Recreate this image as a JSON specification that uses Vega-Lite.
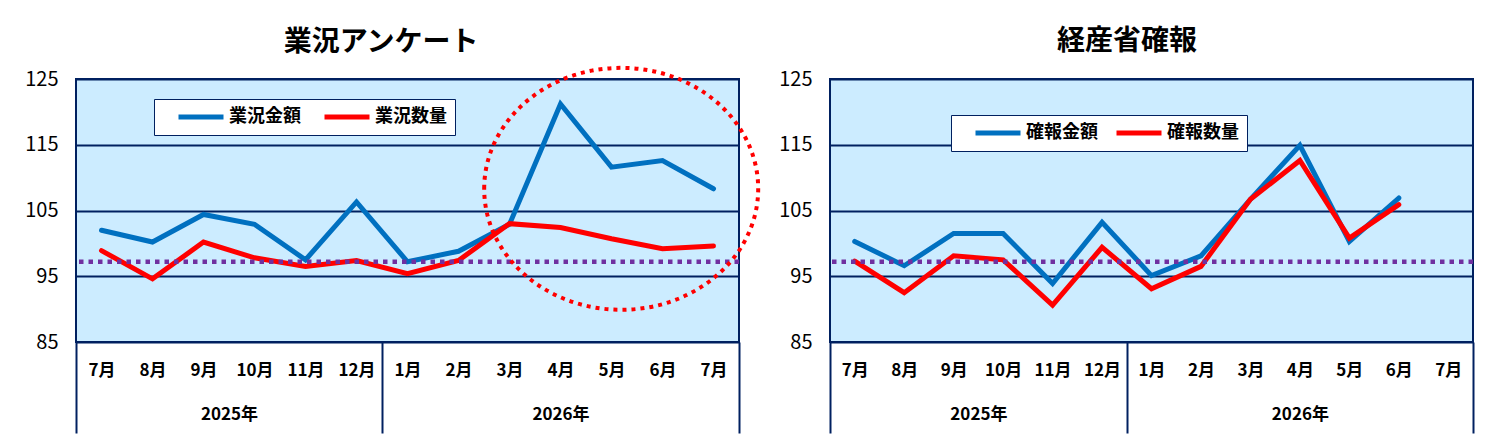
{
  "$schema": "https://vega.github.io/schema/vega-lite/v6.json",
  "background": "white",
  "padding": {"left": 5, "top": 27, "right": 5, "bottom": 2},
  "config": {
    "font": "Noto Sans CJK JP",
    "view": {"stroke": "#002060", "strokeWidth": 2, "fill": "#CCECFF"},
    "concat": {"spacing": 9},
    "axis": {"labelColor": "black", "labelFont": "Noto Sans CJK JP"},
    "axisY": {"labelFontSize": 20, "labelPadding": 18, "grid": true, "gridColor": "#002060", "gridWidth": 2, "domain": false, "ticks": false, "labelColor": "black", "labelFontWeight": "normal"},
    "title": {"color": "black", "font": "Noto Sans CJK JP"}
  },
  "datasets": {
    "survey": [
      {"i": 0, "month": "2025年7月", "series": "業況金額", "value": 102.0},
      {"i": 1, "month": "2025年8月", "series": "業況金額", "value": 100.2},
      {"i": 2, "month": "2025年9月", "series": "業況金額", "value": 104.4},
      {"i": 3, "month": "2025年10月", "series": "業況金額", "value": 102.9},
      {"i": 4, "month": "2025年11月", "series": "業況金額", "value": 97.5},
      {"i": 5, "month": "2025年12月", "series": "業況金額", "value": 106.3},
      {"i": 6, "month": "2026年1月", "series": "業況金額", "value": 97.2},
      {"i": 7, "month": "2026年2月", "series": "業況金額", "value": 98.8},
      {"i": 8, "month": "2026年3月", "series": "業況金額", "value": 102.9},
      {"i": 9, "month": "2026年4月", "series": "業況金額", "value": 121.2},
      {"i": 10, "month": "2026年5月", "series": "業況金額", "value": 111.6},
      {"i": 11, "month": "2026年6月", "series": "業況金額", "value": 112.6},
      {"i": 12, "month": "2026年7月", "series": "業況金額", "value": 108.3},
      {"i": 0, "month": "2025年7月", "series": "業況数量", "value": 98.9},
      {"i": 1, "month": "2025年8月", "series": "業況数量", "value": 94.6},
      {"i": 2, "month": "2025年9月", "series": "業況数量", "value": 100.2},
      {"i": 3, "month": "2025年10月", "series": "業況数量", "value": 97.8},
      {"i": 4, "month": "2025年11月", "series": "業況数量", "value": 96.5},
      {"i": 5, "month": "2025年12月", "series": "業況数量", "value": 97.4},
      {"i": 6, "month": "2026年1月", "series": "業況数量", "value": 95.4},
      {"i": 7, "month": "2026年2月", "series": "業況数量", "value": 97.4},
      {"i": 8, "month": "2026年3月", "series": "業況数量", "value": 103.0},
      {"i": 9, "month": "2026年4月", "series": "業況数量", "value": 102.4},
      {"i": 10, "month": "2026年5月", "series": "業況数量", "value": 100.7},
      {"i": 11, "month": "2026年6月", "series": "業況数量", "value": 99.2},
      {"i": 12, "month": "2026年7月", "series": "業況数量", "value": 99.6}
    ],
    "meti": [
      {"i": 0, "month": "2025年7月", "series": "確報金額", "value": 100.3},
      {"i": 1, "month": "2025年8月", "series": "確報金額", "value": 96.6},
      {"i": 2, "month": "2025年9月", "series": "確報金額", "value": 101.5},
      {"i": 3, "month": "2025年10月", "series": "確報金額", "value": 101.5},
      {"i": 4, "month": "2025年11月", "series": "確報金額", "value": 93.9},
      {"i": 5, "month": "2025年12月", "series": "確報金額", "value": 103.2},
      {"i": 6, "month": "2026年1月", "series": "確報金額", "value": 95.1},
      {"i": 7, "month": "2026年2月", "series": "確報金額", "value": 98.1},
      {"i": 8, "month": "2026年3月", "series": "確報金額", "value": 106.7},
      {"i": 9, "month": "2026年4月", "series": "確報金額", "value": 114.9},
      {"i": 10, "month": "2026年5月", "series": "確報金額", "value": 100.3},
      {"i": 11, "month": "2026年6月", "series": "確報金額", "value": 106.9},
      {"i": 0, "month": "2025年7月", "series": "確報数量", "value": 97.3},
      {"i": 1, "month": "2025年8月", "series": "確報数量", "value": 92.5},
      {"i": 2, "month": "2025年9月", "series": "確報数量", "value": 98.1},
      {"i": 3, "month": "2025年10月", "series": "確報数量", "value": 97.5},
      {"i": 4, "month": "2025年11月", "series": "確報数量", "value": 90.6},
      {"i": 5, "month": "2025年12月", "series": "確報数量", "value": 99.4},
      {"i": 6, "month": "2026年1月", "series": "確報数量", "value": 93.1},
      {"i": 7, "month": "2026年2月", "series": "確報数量", "value": 96.5},
      {"i": 8, "month": "2026年3月", "series": "確報数量", "value": 106.7},
      {"i": 9, "month": "2026年4月", "series": "確報数量", "value": 112.6},
      {"i": 10, "month": "2026年5月", "series": "確報数量", "value": 100.8},
      {"i": 11, "month": "2026年6月", "series": "確報数量", "value": 105.9}
    ],
    "baseline": [{"level": 97.2}],
    "highlight": [{"i": 10.19, "value": 108.3}]
  },
  "hconcat": [
    {
      "width": 663,
      "height": 263,
      "title": {"text": "業況アンケート", "fontSize": 28, "fontWeight": "bold", "anchor": "middle", "frame": "bounds", "offset": 3, "dx": -5},
      "layer": [
        {
          "data": {"name": "survey"},
          "mark": {"type": "line", "strokeWidth": 5, "strokeCap": "round"},
          "encoding": {
            "x": {"field": "i", "type": "quantitative", "scale": {"domain": [-0.5, 12.5], "nice": false, "zero": false},
              "axis": {"orient": "bottom", "values": [0,1,2,3,4,5,6,7,8,9,10,11,12], "labelExpr": "['7月','8月','9月','10月','11月','12月','1月','2月','3月','4月','5月','6月','7月'][datum.value]", "domain": false, "ticks": false, "grid": false, "title": null, "labelFontSize": 17, "labelFontWeight": "bold", "labelPadding": 20, "labelOverlap": false, "labelFlush": false}},
            "y": {"field": "value", "type": "quantitative", "scale": {"domain": [85, 125], "nice": false, "zero": false},
              "axis": {"values": [85, 95, 105, 115, 125], "title": null, "minExtent": 70, "labelOverlap": false, "labelFontSize": 20}},
            "color": {"field": "series", "type": "nominal", "scale": {"domain": ["業況金額", "業況数量"], "range": ["#0070C0", "#FF0000"]},
              "legend": {"orient": "none", "legendX": 78, "legendY": 20, "direction": "horizontal", "title": null, "symbolType": "M-3,0H3", "symbolStrokeWidth": 5, "symbolSize": 225, "symbolOffset": 29, "labelFontSize": 18, "labelFontWeight": "bold", "labelColor": "black", "labelOffset": 18, "columnPadding": 7, "padding": 8, "strokeColor": "#002060", "fillColor": "white"}}
          }
        },
        {
          "data": {"name": "survey"},
          "mark": {"type": "tick", "opacity": 0},
          "encoding": {
            "x": {"field": "i", "type": "quantitative",
              "axis": {"orient": "bottom", "values": [-0.5, 5.5, 12.5], "labels": false, "domain": false, "grid": false, "title": null, "ticks": true, "tickSize": 91, "tickWidth": 2, "tickColor": "#002060"}},
            "y": {"field": "value", "type": "quantitative"}
          }
        },
        {
          "data": {"name": "survey"},
          "mark": {"type": "tick", "opacity": 0},
          "encoding": {
            "x": {"field": "i", "type": "quantitative",
              "axis": {"orient": "bottom", "values": [2.5, 9], "labelExpr": "datum.value < 5.5 ? '2025年' : '2026年'", "domain": false, "ticks": false, "grid": false, "title": null, "labelFontSize": 17, "labelFontWeight": "bold", "labelPadding": 64, "labelOverlap": false, "labelFlush": false}},
            "y": {"field": "value", "type": "quantitative"}
          }
        },
        {
          "data": {"name": "baseline"},
          "mark": {"type": "rule", "color": "#7030A0", "strokeWidth": 4.5, "strokeDash": [4.5, 5]},
          "encoding": {"y": {"field": "level", "type": "quantitative"}}
        },
        {
          "data": {"name": "highlight"},
          "mark": {"type": "point", "shape": "M-1,0C-1,-0.4877,-0.5523,-0.883,0,-0.883C0.5523,-0.883,1,-0.4877,1,0C1,0.4877,0.5523,0.883,0,0.883C-0.5523,0.883,-1,0.4877,-1,0Z", "size": 75076, "filled": false, "stroke": "#FF0000", "strokeWidth": 4, "strokeDash": [4, 5], "opacity": 1},
          "encoding": {
            "x": {"field": "i", "type": "quantitative", "axis": null},
            "y": {"field": "value", "type": "quantitative"}
          }
        }
      ],
      "resolve": {"axis": {"x": "independent"}}
    },
    {
      "width": 643,
      "height": 263,
      "title": {"text": "経産省確報", "fontSize": 28, "fontWeight": "bold", "anchor": "middle", "frame": "bounds", "offset": 13},
      "layer": [
        {
          "data": {"name": "meti"},
          "mark": {"type": "line", "strokeWidth": 5, "strokeCap": "round"},
          "encoding": {
            "x": {"field": "i", "type": "quantitative", "scale": {"domain": [-0.5, 12.5], "nice": false, "zero": false},
              "axis": {"orient": "bottom", "values": [0,1,2,3,4,5,6,7,8,9,10,11,12], "labelExpr": "['7月','8月','9月','10月','11月','12月','1月','2月','3月','4月','5月','6月','7月'][datum.value]", "domain": false, "ticks": false, "grid": false, "title": null, "labelFontSize": 17, "labelFontWeight": "bold", "labelPadding": 20, "labelOverlap": false, "labelFlush": false}},
            "y": {"field": "value", "type": "quantitative", "scale": {"domain": [85, 125], "nice": false, "zero": false},
              "axis": {"values": [85, 95, 105, 115, 125], "title": null, "minExtent": 50, "labelOverlap": false, "labelFontSize": 20}},
            "color": {"field": "series", "type": "nominal", "scale": {"domain": ["確報金額", "確報数量"], "range": ["#0070C0", "#FF0000"]},
              "legend": {"orient": "none", "legendX": 121, "legendY": 36, "direction": "horizontal", "title": null, "symbolType": "M-3,0H3", "symbolStrokeWidth": 5, "symbolSize": 225, "symbolOffset": 29, "labelFontSize": 18, "labelFontWeight": "bold", "labelColor": "black", "labelOffset": 18, "columnPadding": 2, "padding": 8, "strokeColor": "#002060", "fillColor": "white"}}
          }
        },
        {
          "data": {"name": "meti"},
          "mark": {"type": "tick", "opacity": 0},
          "encoding": {
            "x": {"field": "i", "type": "quantitative",
              "axis": {"orient": "bottom", "values": [-0.5, 5.5, 12.5], "labels": false, "domain": false, "grid": false, "title": null, "ticks": true, "tickSize": 91, "tickWidth": 2, "tickColor": "#002060"}},
            "y": {"field": "value", "type": "quantitative"}
          }
        },
        {
          "data": {"name": "meti"},
          "mark": {"type": "tick", "opacity": 0},
          "encoding": {
            "x": {"field": "i", "type": "quantitative",
              "axis": {"orient": "bottom", "values": [2.5, 9], "labelExpr": "datum.value < 5.5 ? '2025年' : '2026年'", "domain": false, "ticks": false, "grid": false, "title": null, "labelFontSize": 17, "labelFontWeight": "bold", "labelPadding": 64, "labelOverlap": false, "labelFlush": false}},
            "y": {"field": "value", "type": "quantitative"}
          }
        },
        {
          "data": {"name": "baseline"},
          "mark": {"type": "rule", "color": "#7030A0", "strokeWidth": 4.5, "strokeDash": [4.5, 5]},
          "encoding": {"y": {"field": "level", "type": "quantitative"}}
        }
      ],
      "resolve": {"axis": {"x": "independent"}}
    }
  ],
  "resolve": {"scale": {"color": "independent"}, "legend": {"color": "independent"}}
}
